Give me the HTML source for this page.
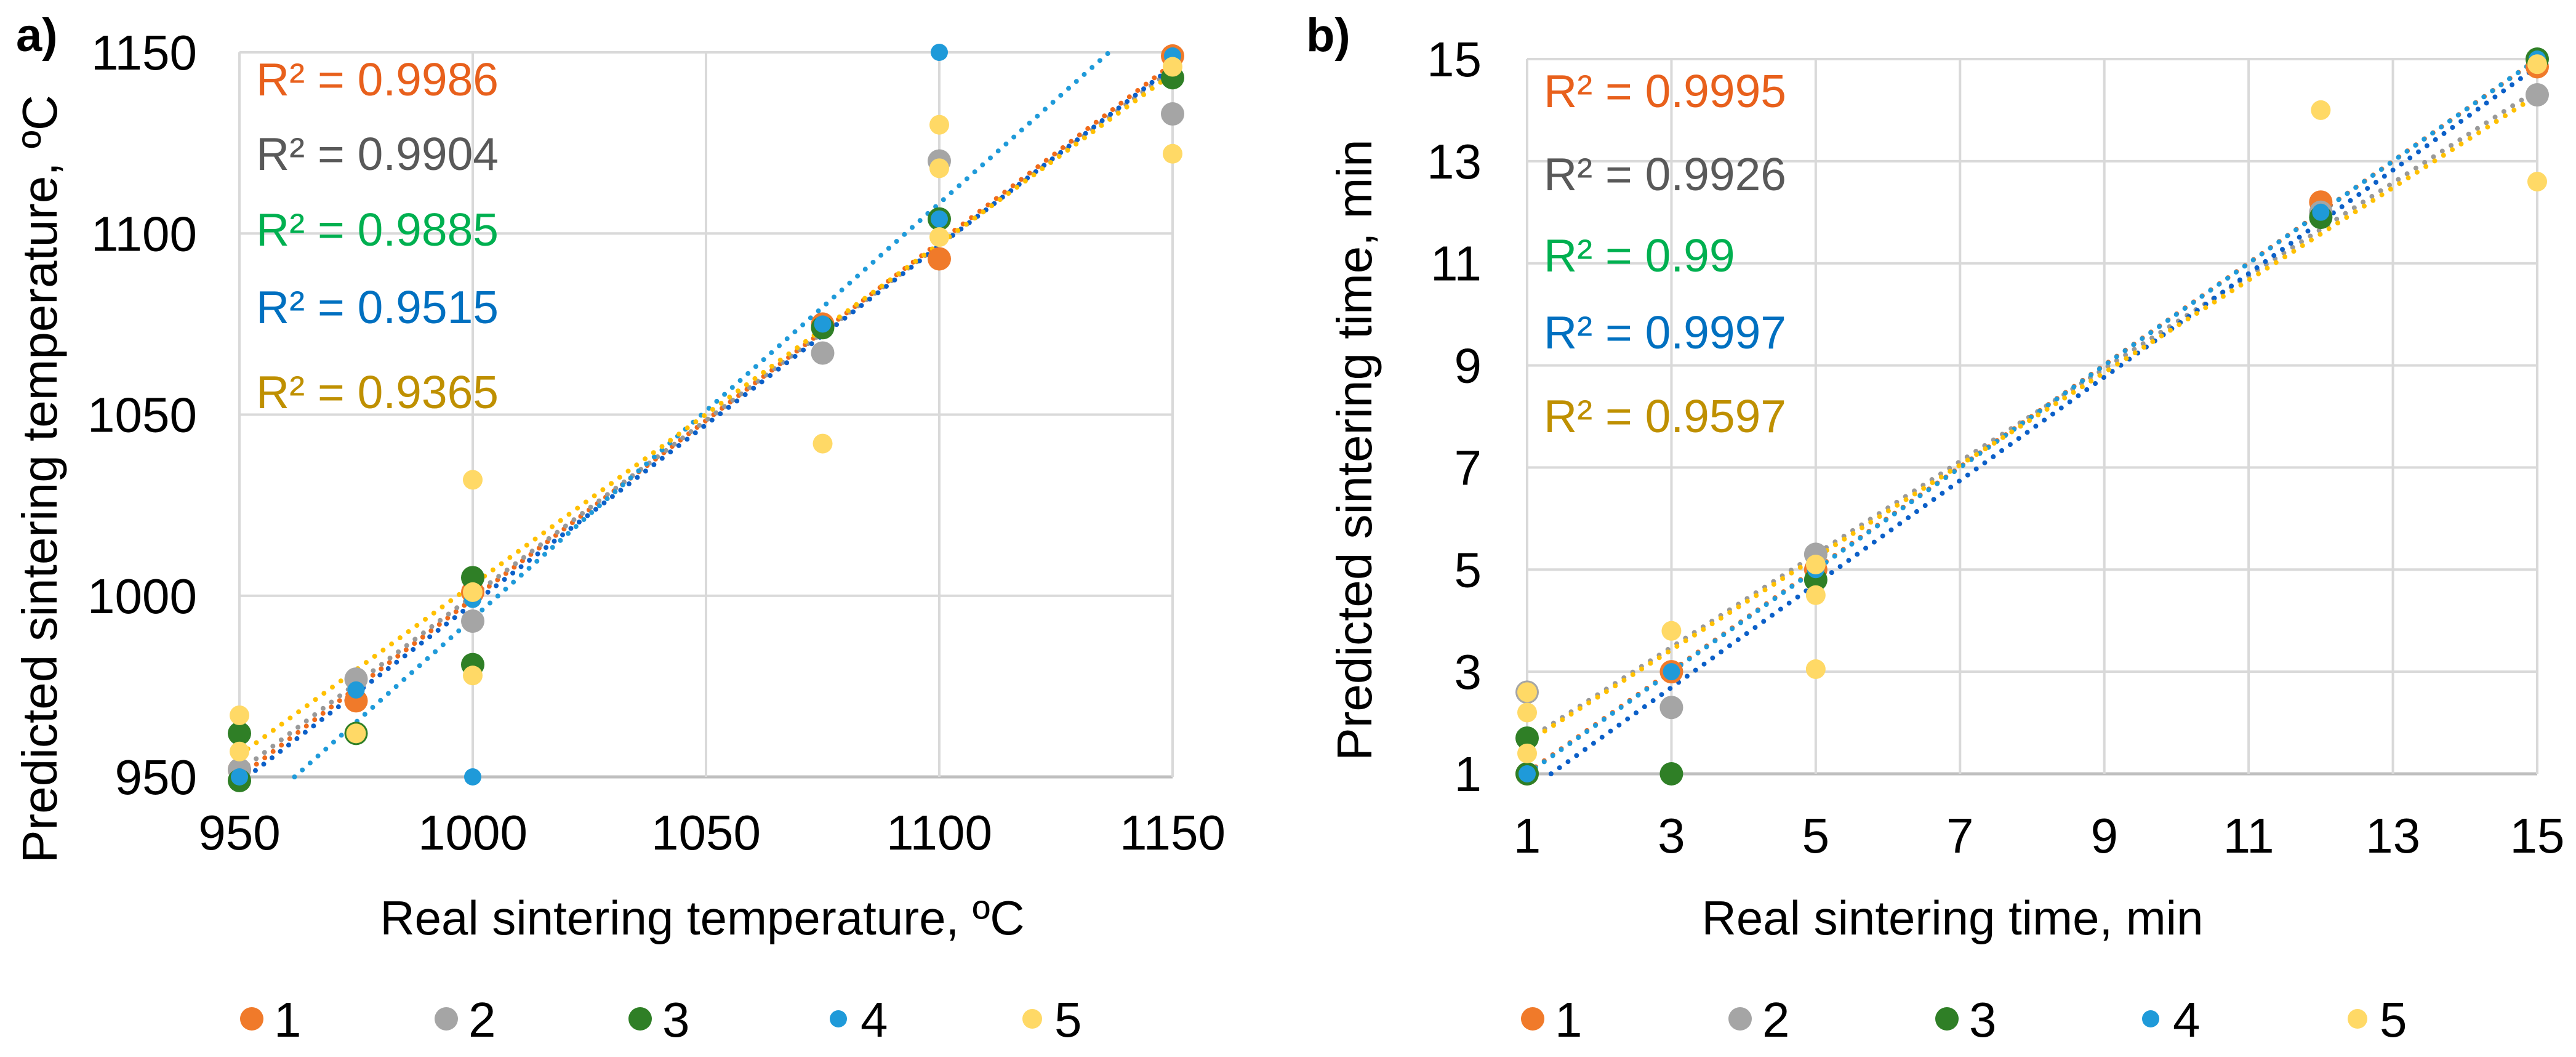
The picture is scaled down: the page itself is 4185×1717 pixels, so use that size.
<!DOCTYPE html>
<html><head><meta charset="utf-8"><style>
html,body{margin:0;padding:0;background:#fff}
svg{display:block}
text{font-family:"Liberation Sans",Arial,sans-serif}
</style></head><body>
<svg id="svg" width="4185" height="1717" viewBox="0 0 4185 1717" xmlns="http://www.w3.org/2000/svg">
<rect width="4185" height="1717" fill="#fff"/>
<g id="chartA"></g>
<g id="chartB"></g>
</svg>
<script>
const NS="http://www.w3.org/2000/svg";
// ---------- data ----------
const colors=["#F07A2A","#A5A5A5","#2F7F26","#1F9AD9","#FFD966"];
const trendColors=["#F06A1A","#999999","#0B5FC8","#1F9AD9","#FFC000"];
const seriesNames=["1","2","3","4","5"];
const markerR=[19,19,19,14,16];
// chart a
const aTicks=[950,1000,1050,1100,1150];
const aX1=[950,975,1000,1075,1100,1150];
const aY1=[952,971,1001,1075,1093,1149];
const aX2=[950,975,1000,1075,1100,1150];
const aY2=[952,977,993,1067,1120,1133];
const aX3=[950,950,975,1000,1000,1075,1100,1150];
const aY3=[962,949,962,1005,981,1074,1104,1143];
const aX4=[950,975,1000,1000,1075,1100,1100,1150];
const aY4=[950,974,950,999,1075,1150,1104,1149];
const aX5=[950,950,975,1000,1000,1000,1075,1100,1100,1100,1150,1150];
const aY5=[967,957,962,1032,978,1001,1042,1130,1118,1099,1122,1146];
const aR2=["R² = 0.9986","R² = 0.9904","R² = 0.9885","R² = 0.9515","R² = 0.9365"];
// chart b
const bTicks=[1,3,5,7,9,11,13,15];
const bX1=[1,3,5,12,15];
const bY1=[1,3,5,12.2,14.85];
const bX2=[1,3,5,12,15];
const bY2=[2.6,2.3,5.3,12.0,14.3];
const bX3=[1,1,3,5,12,15];
const bY3=[1.7,1.0,1.0,4.8,11.9,15.0];
const bX4=[1,3,5,12,15];
const bY4=[1.0,3.0,5.0,12.0,15.0];
const bX5=[1,1,1,3,5,5,5,12,15,15];
const bY5=[2.6,2.2,1.4,3.8,5.1,4.5,3.05,14.0,12.6,14.9];
const bR2=["R² = 0.9995","R² = 0.9926","R² = 0.99","R² = 0.9997","R² = 0.9597"];
const r2Colors=["#E8601C","#595959","#00B050","#0070C0","#BF9000"];

function el(tag,attrs,parent){const e=document.createElementNS(NS,tag);for(const k in attrs)e.setAttribute(k,attrs[k]);parent.appendChild(e);return e;}
function fit(xs,ys){const n=xs.length;let sx=0,sy=0,sxx=0,sxy=0;for(let i=0;i<n;i++){sx+=xs[i];sy+=ys[i];sxx+=xs[i]*xs[i];sxy+=xs[i]*ys[i];}const m=(n*sxy-sx*sy)/(n*sxx-sx*sx);return [m,(sy-m*sx)/n];}

function drawChart(g,cfg){
  const sx=v=>cfg.x0+(v-cfg.min)/(cfg.max-cfg.min)*(cfg.x1-cfg.x0);
  const sy=v=>cfg.y0-(v-cfg.min)/(cfg.max-cfg.min)*(cfg.y0-cfg.y1);
  cfg.ticks.forEach(t=>{
    let l=el("line",{x1:sx(t),x2:sx(t),y1:cfg.y1,y2:cfg.y0,stroke:"#d9d9d9","stroke-width":4},g);
    
    
    l=el("line",{x1:cfg.x0,x2:cfg.x1,y1:sy(t),y2:sy(t),stroke:t===cfg.min?"#bfbfbf":"#d9d9d9","stroke-width":t===cfg.min?5:4},g);
    
    
    let tx=el("text",{x:sx(t),y:cfg.xTickY,"font-size":80,"text-anchor":"middle",fill:"#000"},g);tx.textContent=t;
    
    
    tx=el("text",{x:cfg.yTickX,y:sy(t)+28,"font-size":80,"text-anchor":"end",fill:"#000"},g);tx.textContent=t;
    
    
  });
  cfg.xs.forEach((xs,i)=>{
    const [m,b]=fit(xs,cfg.ys[i]);
    let xa=cfg.min,xb=cfg.max,ya=m*xa+b,yb=m*xb+b;
    if(ya<cfg.min){xa=(cfg.min-b)/m;ya=cfg.min;}
    if(yb>cfg.max){xb=(cfg.max-b)/m;yb=cfg.max;}
    const l=el("line",{x1:sx(xa),y1:sy(ya),x2:sx(xb),y2:sy(yb),stroke:trendColors[i],"stroke-width":8,"stroke-dasharray":"0 17","stroke-linecap":"round"},g);
    
    
  });
  cfg.xs.forEach((xs,i)=>{
    xs.forEach((x,j)=>{
      const c=el("circle",{cx:sx(x),cy:sy(cfg.ys[i][j]),r:markerR[i],fill:colors[i]},g);
      
      
    });
  });
  cfg.r2.forEach((s,i)=>{
    const t=el("text",{x:cfg.r2X,y:cfg.r2Y[i],"font-size":75,fill:r2Colors[i]},g);t.textContent=s;
    
    
  });
  let t=el("text",{x:cfg.xTitleX,y:1518,"font-size":78,"text-anchor":"middle",fill:"#000"},g);t.textContent=cfg.xTitle;
  
  
  t=el("text",{x:0,y:0,"font-size":80,"text-anchor":"middle",fill:"#000",transform:`translate(${cfg.yTitleX},${cfg.yTitleY}) rotate(-90)`},g);t.textContent=cfg.yTitle;
  
  
  t=el("text",{x:cfg.panelX,y:83,"font-size":76,"font-weight":"bold",fill:"#000"},g);t.textContent=cfg.panel;
  
  
  cfg.legendX.forEach((lx,i)=>{
    const c=el("circle",{cx:lx,cy:1655,r:markerR[i]},g);c.setAttribute("fill",colors[i]);
    
    
    const tt=el("text",{x:lx+36,y:1684,"font-size":80,fill:"#000"},g);tt.textContent=seriesNames[i];
    
    
  });
}
drawChart(document.getElementById("chartA"),{x0:389,x1:1905,y0:1262,y1:85,min:950,max:1150,ticks:aTicks,
  xs:[aX1,aX2,aX3,aX4,aX5],ys:[aY1,aY2,aY3,aY4,aY5],r2:aR2,r2X:416,r2Y:[155,276,399,525,663],
  xTickY:1380,yTickX:320,xTitle:"Real sintering temperature, ºC",xTitleX:1141,
  yTitle:"Predicted sintering temperature, ºC",yTitleX:92,yTitleY:778,panel:"a)",panelX:26,
  legendX:[409,725,1040,1362,1677]});
drawChart(document.getElementById("chartB"),{x0:2481,x1:4122,y0:1257,y1:96,min:1,max:15,ticks:bTicks,
  xs:[bX1,bX2,bX3,bX4,bX5],ys:[bY1,bY2,bY3,bY4,bY5],r2:bR2,r2X:2508,r2Y:[174,309,441,566,702],
  xTickY:1385,yTickX:2407,xTitle:"Real sintering time, min",xTitleX:3172,
  yTitle:"Predicted sintering time, min",yTitleX:2228,yTitleY:731,panel:"b)",panelX:2122,
  legendX:[2490,2827,3163,3494,3830]});
</script>
</body></html>
